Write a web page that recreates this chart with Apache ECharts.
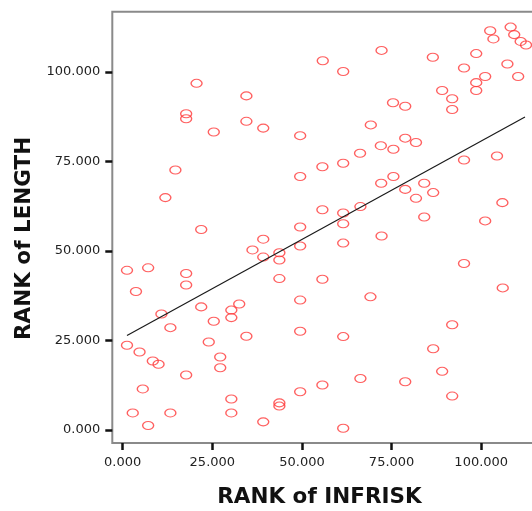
<!DOCTYPE html>
<html>
<head>
<meta charset="utf-8">
<script src="https://cdn.jsdelivr.net/npm/echarts@6/dist/echarts.min.js"></script>
<style>
  html, body { margin: 0; padding: 0; background: #fff; }
  #chart { width: 532px; height: 511px; }
</style>
</head>
<body>
<div id="chart"></div>
<script>
// rank of INFRISK (x) and rank of LENGTH (y), one entry per hospital
const infriskRank = [
  20.6, 34.5, 17.7, 17.7, 34.5, 25.4, 14.7, 11.9, 21.9, 72.2,
  55.8, 61.5, 75.4, 39.2, 49.5, 69.2, 72.0, 75.5, 66.2, 55.7,
  61.5, 49.5, 72.1, 75.5, 55.7, 61.5, 66.3, 61.5, 49.5, 78.8,
  86.5, 95.2, 98.6, 102.5, 103.4, 108.2, 109.2, 111.0, 112.5, 107.3,
  110.3, 101.1, 98.6, 98.6, 89.1, 91.9, 91.9, 78.8, 81.8, 95.2,
  104.4, 78.8, 81.8, 84.1, 86.6, 105.9, 84.1, 101.1, 36.2, 1.2,
  7.1, 17.7, 17.7, 3.7, 10.8, 21.9, 13.3, 25.4, 30.3, 30.3,
  32.5, 34.5, 1.2, 4.7, 8.4, 10.0, 24.0, 27.2, 27.2, 17.7,
  5.6, 2.8, 7.1, 13.3, 30.3, 30.3, 39.2, 39.2, 43.7, 43.7,
  49.5, 61.5, 72.2, 43.7, 55.7, 49.5, 69.1, 49.5, 61.5, 66.3,
  55.7, 49.5, 43.7, 43.7, 39.2, 61.5, 95.2, 106.0, 91.9, 86.6,
  89.1, 78.8, 91.9
]
const lengthRank = [
  96.8, 93.3, 88.3, 86.9, 86.2, 83.2, 72.6, 64.9, 56.0, 106.0,
  103.1, 100.1, 91.4, 84.3, 82.2, 85.2, 79.4, 78.4, 77.3, 73.5,
  74.5, 70.8, 68.9, 70.8, 61.5, 60.6, 62.4, 57.6, 56.7, 90.4,
  104.1, 101.1, 105.1, 111.5, 109.2, 112.5, 110.4, 108.5, 107.5, 102.2,
  98.7, 98.7, 97.0, 94.8, 94.8, 92.5, 89.5, 81.5, 80.3, 75.4,
  76.5, 67.2, 64.7, 68.9, 66.3, 63.5, 59.5, 58.4, 50.3, 44.6,
  45.3, 43.7, 40.5, 38.7, 32.4, 34.4, 28.6, 30.4, 33.5, 31.4,
  35.2, 26.2, 23.7, 21.8, 19.3, 18.4, 24.6, 20.4, 17.4, 15.4,
  11.5, 4.8, 1.3, 4.8, 8.7, 4.8, 53.3, 48.3, 49.5, 47.5,
  51.4, 52.2, 54.2, 42.3, 42.1, 36.3, 37.2, 27.6, 26.1, 14.4,
  12.6, 10.7, 7.6, 6.7, 2.3, 0.5, 46.5, 39.7, 29.4, 22.7,
  16.4, 13.5, 9.5
]
// fitted line ends
const fitX = [1.2, 112.2]
const fitY = [26.4, 87.4]
const tickValues = [0, 25, 50, 75, 100]

const points = infriskRank.map((x, i) => [x, lengthRank[i]])
const fitLine = fitX.map((x, i) => [x, fitY[i]])

const nameStyle = {
  fontFamily: 'DejaVu Sans',
  fontWeight: 'bold',
  fontSize: 21.5,
  color: '#111'
}

const chart = echarts.init(document.getElementById('chart'), null, { renderer: 'canvas' })
chart.setOption({
  backgroundColor: '#fff',
  animation: false,
  grid: {
    left: 112.3,
    right: -6.6,
    top: 11.7,
    bottom: 68,
    show: true,
    borderColor: '#8a8a8a',
    borderWidth: 2,
    outerBoundsMode: 'none'
  },
  xAxis: {
    type: 'value',
    min: -2.9,
    max: 116,
    name: 'RANK of INFRISK',
    nameLocation: 'middle',
    nameGap: 43,
    nameTextStyle: Object.assign({}, nameStyle, {
      verticalAlign: 'top',
      padding: [0, 12, 0, 0]
    }),
    axisLine: { show: false, onZero: false },
    splitLine: { show: false },
    axisTick: {
      show: true,
      inside: false,
      length: 7,
      customValues: tickValues,
      lineStyle: { color: '#111', width: 2.5 }
    },
    axisLabel: {
      customValues: tickValues,
      margin: 13,
      fontFamily: 'DejaVu Sans',
      fontSize: 13,
      color: '#222',
      formatter: v => v.toFixed(3)
    }
  },
  yAxis: {
    type: 'value',
    min: -3.6,
    max: 116.8,
    name: 'RANK of LENGTH',
    nameLocation: 'middle',
    nameGap: 76,
    nameTextStyle: Object.assign({}, nameStyle, {
      padding: [0, 22, 0, 0]
    }),
    axisLine: { show: false, onZero: false },
    splitLine: { show: false },
    axisTick: {
      show: true,
      inside: false,
      length: 7,
      customValues: tickValues,
      lineStyle: { color: '#111', width: 2.5 }
    },
    axisLabel: {
      customValues: tickValues,
      margin: 12,
      fontFamily: 'DejaVu Sans',
      fontSize: 13,
      color: '#222',
      formatter: v => v.toFixed(3)
    }
  },
  series: [{
    type: 'scatter',
    data: points,
    symbol: 'path://M0,5A5,5 0 1,0 10,5A5,5 0 1,0 0,5Z',
    symbolSize: [11, 8],
    itemStyle: {
      color: 'transparent',
      borderColor: '#ff3838',
      borderWidth: 1.2
    },
    emphasis: { disabled: true }
  }, {
    type: 'line',
    data: fitLine,
    showSymbol: false,
    lineStyle: { color: '#1a1a1a', width: 1.2 },
    emphasis: { disabled: true }
  }]
})
</script>
</body>
</html>
